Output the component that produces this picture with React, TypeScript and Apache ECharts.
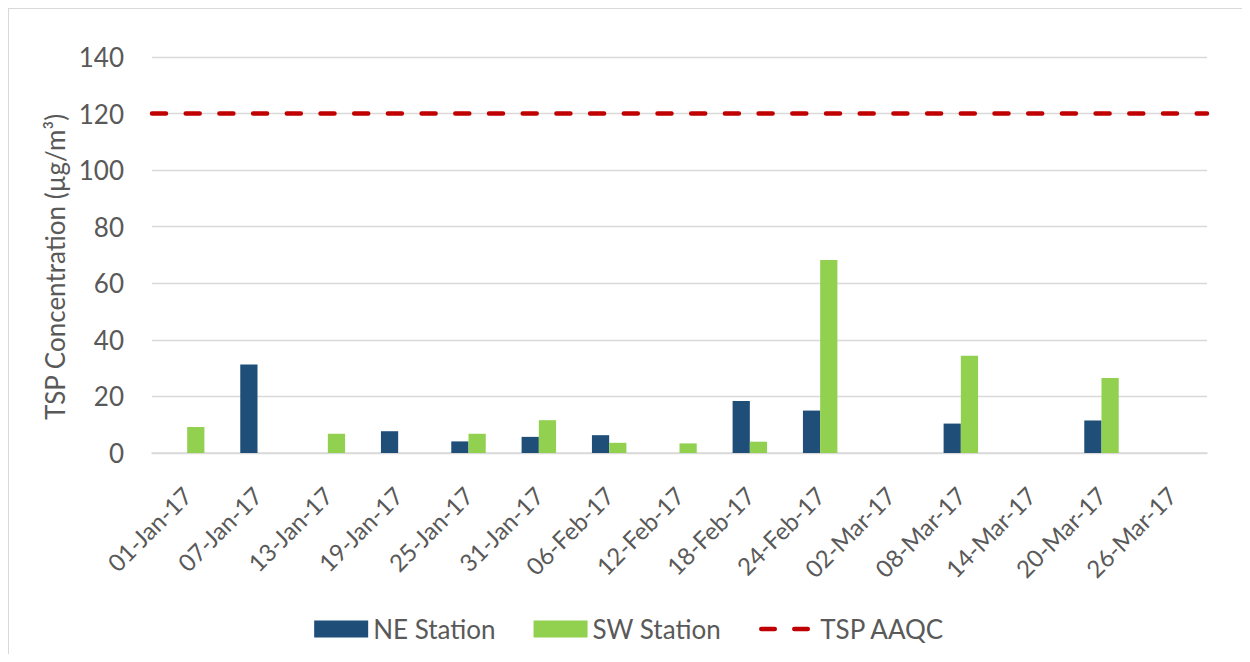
import React, { useEffect, useRef } from "react";
import * as echarts from "echarts";

const categories = [
  "01-Jan-17", "07-Jan-17", "13-Jan-17", "19-Jan-17", "25-Jan-17",
  "31-Jan-17", "06-Feb-17", "12-Feb-17", "18-Feb-17", "24-Feb-17",
  "02-Mar-17", "08-Mar-17", "14-Mar-17", "20-Mar-17", "26-Mar-17",
];
const neStation = [null, 31.3, null, 7.7, 4.1, 5.7, 6.3, null, 18.4, 15.0, null, 10.4, null, 11.5, null];
const swStation = [9.2, null, 6.8, null, 6.8, 11.6, 3.6, 3.4, 4.0, 68.2, null, 34.4, null, 26.5, null];
const aaqcLimit = 120;
const yTicks = { min: 0, max: 140, interval: 20 };

const FONT = "Lato, 'Open Sans', sans-serif";
const TXT = "#595959";

export default function App() {
  const ref = useRef<HTMLDivElement>(null);
  useEffect(() => {
    if (!ref.current) return;
    const chart = echarts.init(ref.current, undefined, { renderer: "svg" });
    const redLine = { color: "#C00000", width: 4.5, type: [14, 19.7], cap: "round" };
    chart.setOption({
      animation: false,
      textStyle: { fontFamily: FONT },
      grid: { left: 143, right: 43, top: 48, bottom: 201, outerBoundsMode: "none", containLabel: false },
      legend: {
        bottom: 7,
        left: "center",
        itemWidth: 54,
        itemHeight: 17,
        itemGap: 38,
        textStyle: { fontFamily: FONT, fontSize: 26, color: TXT },
        data: [
          { name: "NE Station", icon: "rect" },
          { name: "SW Station", icon: "rect" },
          {
            name: "TSP AAQC",
            itemStyle: { opacity: 0 },
            lineStyle: { color: "#C00000", width: 4.5, type: [13.5, 19.5], cap: "round" },
          },
        ],
      },
      xAxis: {
        type: "category",
        data: categories,
        axisLine: { lineStyle: { color: "#d9d9d9", width: 1.6 } },
        axisTick: { show: false },
        axisLabel: {
          rotate: 45,
          margin: 38,
          fontSize: 24,
          color: TXT,
          fontFamily: FONT,
          interval: 0,
        },
      },
      yAxis: {
        type: "value",
        min: yTicks.min,
        max: yTicks.max,
        interval: yTicks.interval,
        name: "TSP Concentration (µg/m³)",
        nameLocation: "middle",
        nameGap: 80,
        nameTextStyle: { fontSize: 26, color: TXT, fontFamily: FONT, padding: [0, 24, 0, 0] },
        axisLine: { show: false },
        axisTick: { show: false },
        axisLabel: { margin: 28, fontSize: 26, color: TXT, fontFamily: FONT },
        splitLine: { lineStyle: { color: "#d9d9d9", width: 1.3 } },
      },
      series: [
        {
          name: "NE Station",
          type: "bar",
          data: neStation,
          barGap: "0%",
          barCategoryGap: "51%",
          itemStyle: { color: "#1F4E79" },
        },
        {
          name: "SW Station",
          type: "bar",
          data: swStation,
          barGap: "0%",
          barCategoryGap: "51%",
          itemStyle: { color: "#92D050" },
        },
        {
          name: "TSP AAQC",
          type: "line",
          data: [],
          symbol: "none",
          itemStyle: { color: "#C00000" },
          lineStyle: redLine,
          markLine: {
            silent: true,
            symbol: "none",
            label: { show: false },
            lineStyle: redLine,
            data: [{ yAxis: aaqcLimit }],
          },
        },
      ],
    });
    return () => chart.dispose();
  }, []);
  return (
    <div
      style={{
        width: 1242,
        height: 646,
        boxSizing: "border-box",
        borderTop: "1px solid #d9d9d9",
        borderLeft: "1px solid #d9d9d9",
      }}
    >
      <div ref={ref} style={{ width: 1241, height: 645 }} />
    </div>
  );
}
